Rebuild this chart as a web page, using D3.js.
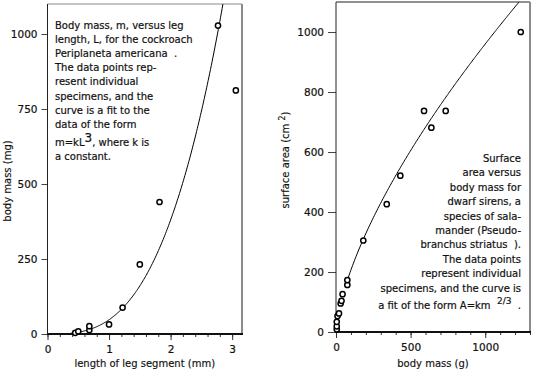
<!DOCTYPE html>
<html><head><meta charset="utf-8">
<script src="https://cdn.jsdelivr.net/npm/d3@7"></script>
<style>
body{margin:0;background:#fff}
svg{display:block;font-family:"DejaVu Sans",Verdana,sans-serif;fill:#111}
text{white-space:pre}
</style>
</head><body><svg id="c" width="539" height="377"></svg>
<script>
// ---- Cockroach data (left panel) ----
const legLength = [0.45, 0.50, 0.68, 0.68, 1.00, 1.22, 1.50, 1.82, 2.77, 3.06];
const bodyMassMg = [4, 9, 13, 26, 32, 88, 232, 440, 1028, 812];
const cockroachK = 47.5;            // m = k L^3
const cockroachXTicks = [0, 1, 2, 3];
const cockroachYTicks = [0, 250, 500, 750, 1000];
const cockroachNote = [
  "Body mass, m, versus leg",
  "length, L, for the cockroach",
  "Periplaneta americana  .",
  "The data points rep-",
  "resent individual",
  "specimens, and the",
  "curve is a fit to the",
  "data of the form",
  "m=kL|3|, where k is",
  "a constant."
];

// ---- Dwarf siren data (right panel) ----
const sirenMass = [5, 5, 5, 10, 20, 31, 37, 44, 76, 76, 183, 340, 431, 590, 639, 735, 1238];
const sirenArea = [9, 19, 34, 53, 62, 95, 104, 126, 157, 173, 305, 426, 521, 737, 681, 737, 1000];
const sirenK = 9.6;                 // A = k m^(2/3)
const sirenXTicks = [0, 500, 1000];
const sirenYTicks = [0, 200, 400, 600, 800, 1000];
const sirenNote = [
  "Surface",
  "area versus",
  "body mass for",
  "dwarf sirens, a",
  "species of sala-",
  "mander (Pseudo-",
  "branchus striatus  ).",
  "The data points",
  "represent individual",
  "specimens, and the curve is",
  "a fit of the form A=km  |2/3|  ."
];

const svg = d3.select("#c");

function panel(o) {
  const g = svg.append("g");
  const x = d3.scaleLinear().domain(o.xDomain).range(o.xRange);
  const y = d3.scaleLinear().domain(o.yDomain).range(o.yRange);
  const [x0, x1] = o.xRange, [y0, y1] = o.yRange;

  // frame
  g.append("line").attr("x1", x0).attr("x2", x1).attr("y1", y1).attr("y2", y1)
    .attr("stroke", o.topColor).attr("stroke-width", 1);
  g.append("line").attr("x1", x1).attr("x2", x1).attr("y1", y1).attr("y2", y0)
    .attr("stroke", "#8a8a8a").attr("stroke-width", 2);

  const clipId = o.id + "clip";
  g.append("clipPath").attr("id", clipId).append("rect")
    .attr("x", x0).attr("y", y1).attr("width", x1 - x0).attr("height", y0 - y1);

  // fitted curve
  const xs = d3.range(o.curveFrom, o.curveTo, (o.curveTo - o.curveFrom) / 200).concat([o.curveTo]);
  g.append("path")
    .attr("clip-path", `url(#${clipId})`)
    .attr("d", d3.line().x(d => x(d)).y(d => y(o.fit(d)))(xs))
    .attr("fill", "none").attr("stroke", "#000").attr("stroke-width", 1);

  // minor x ticks
  g.append("g").attr("transform", `translate(0,${y0})`)
    .call(d3.axisBottom(x).tickValues(o.minor).tickSize(3).tickFormat(""))
    .call(a => a.select(".domain").remove())
    .call(a => a.selectAll("line").attr("stroke", "#333"));

  // x axis
  g.append("g").attr("transform", `translate(0,${y0})`)
    .call(d3.axisBottom(x).tickValues(o.xTicks).tickSize(6).tickPadding(6).tickFormat(d3.format("d")))
    .call(a => a.select(".domain").remove())
    .call(a => a.selectAll("line").attr("stroke", "#333"))
    .call(a => a.selectAll("text").attr("font-size", 10.5).attr("fill", "#111")
      .attr("stroke", "#111").attr("stroke-width", 0.2)
      .attr("font-family", "DejaVu Sans, sans-serif"));

  // y axis
  g.append("g").attr("transform", `translate(${x0},0)`)
    .call(d3.axisLeft(y).tickValues(o.yTicks).tickSize(o.yTickLen).tickPadding(4).tickFormat(d3.format("d")))
    .call(a => a.select(".domain").remove())
    .call(a => a.selectAll("line").attr("stroke", "#444"))
    .call(a => a.selectAll("text").attr("font-size", 10.5).attr("fill", "#111")
      .attr("stroke", "#111").attr("stroke-width", 0.2)
      .attr("font-family", "DejaVu Sans, sans-serif"));

  // axis lines
  g.append("line").attr("x1", x0).attr("x2", x0).attr("y1", y1).attr("y2", y0)
    .attr("stroke", "#222").attr("stroke-width", 1);
  g.append("line").attr("x1", x0 - 0.5).attr("x2", x1 + 1).attr("y1", y0).attr("y2", y0)
    .attr("stroke", "#111").attr("stroke-width", 2);

  // points
  g.append("g").selectAll("circle").data(o.xs.map((v, i) => [v, o.ys[i]])).join("circle")
    .attr("cx", d => x(d[0])).attr("cy", d => y(d[1])).attr("r", 2.6)
    .attr("fill", "#fff").attr("stroke", "#000").attr("stroke-width", 1.5);

  // axis titles
  g.append("text").attr("x", (x0 + x1) / 2).attr("y", o.xTitleY).attr("text-anchor", "middle")
    .attr("font-size", 10).attr("stroke", "#111").attr("stroke-width", 0.15).text(o.xTitle);
  const yt = g.append("text").attr("transform", `translate(${o.yTitleX},${o.yTitleC}) rotate(-90)`)
    .attr("text-anchor", "middle").attr("font-size", 10).attr("stroke", "#111").attr("stroke-width", 0.15);
  o.yTitle.split("|").forEach((s, i) => {
    const t = yt.append("tspan").text(s);
    if (i % 2 === 1) t.attr("font-size", 8).attr("dy", -4);
    else if (i > 0) t.attr("dy", 4);
  });

  // note text
  o.note.forEach((line, i) => {
    const t = g.append("text").attr("x", o.noteX)
      .attr("y", o.noteY + i * o.noteDy + (i >= o.supLine ? o.supGap : 0) + (i > o.supLine ? o.afterGap : 0))
      .attr("font-size", 10).attr("text-anchor", o.noteAnchor)
      .attr("stroke", "#111").attr("stroke-width", 0.2);
    line.split("|").forEach((s, k) => {
      const sp = t.append("tspan").text(s);
      if (k % 2 === 1) sp.attr("font-size", o.supSize).attr("dy", -o.supRaise);
      else if (k > 0) sp.attr("dy", o.supRaise);
    });
  });
}

panel({
  id: "l",
  xDomain: [0, 3.16], xRange: [47.5, 242],
  yDomain: [0, 1100], yRange: [334, 4],
  topColor: "#8a8a8a",
  xTicks: cockroachXTicks, yTicks: cockroachYTicks,
  minor: d3.range(0, 3.1, 0.2),
  yTickLen: 6,
  xs: legLength, ys: bodyMassMg,
  fit: L => cockroachK * L * L * L, curveFrom: 0.38, curveTo: 2.9,
  xTitle: "length of leg segment (mm)", xTitleY: 367,
  yTitle: "body mass (mg)", yTitleX: 11, yTitleC: 181,
  note: cockroachNote, noteX: 55, noteY: 28.5, noteDy: 14.2, noteAnchor: "start",
  supLine: 8, supSize: 12, supRaise: 4, supGap: 4, afterGap: 0
});

panel({
  id: "r",
  xDomain: [0, 1300], xRange: [336, 530],
  yDomain: [0, 1100], yRange: [332, 2],
  topColor: "#222",
  xTicks: sirenXTicks, yTicks: sirenYTicks,
  minor: d3.range(0, 1301, 100),
  yTickLen: 8,
  xs: sirenMass, ys: sirenArea,
  fit: m => sirenK * Math.pow(m, 2 / 3), curveFrom: 70, curveTo: 1240,
  xTitle: "body mass (g)", xTitleY: 367,
  yTitle: "surface area (cm |2|)", yTitleX: 289, yTitleC: 160,
  note: sirenNote, noteX: 521, noteY: 162, noteDy: 14.4, noteAnchor: "end",
  supLine: 10, supSize: 9, supRaise: 5, supGap: 3, afterGap: 0
});
</script>
</body></html>
